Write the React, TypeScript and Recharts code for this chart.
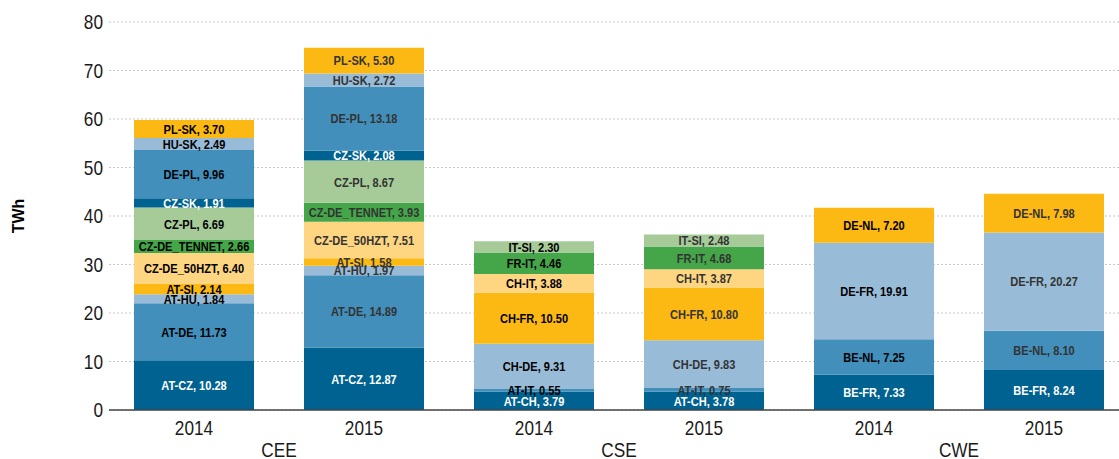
import { BarChart, Bar, XAxis, YAxis, CartesianGrid } from "recharts";

const years = ["2014", "2015", "2014", "2015", "2014", "2015"];
const regions = ["CEE", "CEE", "CSE", "CSE", "CWE", "CWE"];

// segment names per region, bottom to top
const ceeNames = [
  "AT-CZ",
  "AT-DE",
  "AT-HU",
  "AT-SI",
  "CZ-DE_50HZT",
  "CZ-DE_TENNET",
  "CZ-PL",
  "CZ-SK",
  "DE-PL",
  "HU-SK",
  "PL-SK",
];
const cseNames = ["AT-CH", "AT-IT", "CH-DE", "CH-FR", "CH-IT", "FR-IT", "IT-SI"];
const cweNames = ["BE-FR", "BE-NL", "DE-FR", "DE-NL"];

const cee2014 = [10.28, 11.73, 1.84, 2.14, 6.4, 2.66, 6.69, 1.91, 9.96, 2.49, 3.7];
const cee2015 = [12.87, 14.89, 1.97, 1.58, 7.51, 3.93, 8.67, 2.08, 13.18, 2.72, 5.3];
const cse2014 = [3.79, 0.55, 9.31, 10.5, 3.88, 4.46, 2.3];
const cse2015 = [3.78, 0.75, 9.83, 10.8, 3.87, 4.68, 2.48];
const cwe2014 = [7.33, 7.25, 19.91, 7.2];
const cwe2015 = [8.24, 8.1, 20.27, 7.98];

const yTicks = [0, 10, 20, 30, 40, 50, 60, 70, 80];

const colors = [
  "#006290",
  "#428fbb",
  "#98bbd7",
  "#fdb913",
  "#fed581",
  "#45a649",
  "#a6cb99",
  "#006290",
  "#428fbb",
  "#98bbd7",
  "#fdb913",
];

const rows: [string[], number[]][] = [
  [ceeNames, cee2014],
  [ceeNames, cee2015],
  [cseNames, cse2014],
  [cseNames, cse2015],
  [cweNames, cwe2014],
  [cweNames, cwe2015],
];

const data = rows.map(([names, values], i) => {
  const row: Record<string, string | number> = {
    key: `${regions[i]}-${years[i]}`,
    year: years[i],
    region: regions[i],
  };
  values.forEach((v, j) => {
    row[`s${j}`] = v;
    row[`n${j}`] = names[j];
  });
  return row;
});

const seriesCount = 11;
const font = "'Liberation Sans', Arial, sans-serif";
const squeeze = 0.82; // stand-in for Arial Narrow

// text squeezed horizontally around its anchor point
function NarrowText({ x, y, size, weight, fill, anchor = "middle", baseline, children }: any) {
  return (
    <text
      transform={`translate(${x}, ${y}) scale(${squeeze}, 1)`}
      x={0}
      y={0}
      textAnchor={anchor}
      dominantBaseline={baseline}
      fontFamily={font}
      fontSize={size}
      fontWeight={weight}
      fill={fill}
    >
      {children}
    </text>
  );
}

function segmentLabel(seriesIndex: number) {
  return (props: any) => {
    const { x, y, width, height, index } = props;
    const row = data[index];
    const value = row?.[`s${seriesIndex}`];
    if (value === undefined || !height) return null;
    const name = row[`n${seriesIndex}`];
    const dark = seriesIndex === 0 || seriesIndex === 7;
    const is2015 = row.year === "2015";
    const fill = dark ? "#ffffff" : is2015 ? "#333333" : "#000000";
    return (
      <NarrowText
        x={x + width / 2}
        y={y + height / 2 + 0.5}
        size={13.5}
        weight="bold"
        fill={fill}
        baseline="central"
      >
        {`${name}, ${Number(value).toFixed(2)}`}
      </NarrowText>
    );
  };
}

function XTick(props: any) {
  const { x, y, payload, index } = props;
  const i = payload?.index ?? index;
  return (
    <g>
      <NarrowText x={x} y={y + 17} size={21} fill="#1a1a1a">
        {years[i]}
      </NarrowText>
      {i % 2 === 0 && (
        <NarrowText x={x + 85} y={y + 39} size={21} fill="#1a1a1a">
          {regions[i]}
        </NarrowText>
      )}
    </g>
  );
}

function YTick(props: any) {
  const { x, y, payload } = props;
  return (
    <NarrowText x={x} y={y + 7} size={21} fill="#1a1a1a" anchor="end">
      {payload.value}
    </NarrowText>
  );
}

function YTitle(props: any) {
  const { viewBox } = props;
  const cy = viewBox.y + viewBox.height / 2;
  return (
    <text
      x={18}
      y={cy}
      transform={`rotate(-90, 18, ${cy})`}
      textAnchor="middle"
      dominantBaseline="central"
      fontFamily={font}
      fontSize={16}
      fontWeight="bold"
      fill="#000"
    >
      TWh
    </text>
  );
}

export default function App() {
  return (
    <div style={{ position: "absolute", left: 0, top: 0, width: 1119, height: 459, background: "#fff" }}>
      <BarChart
        width={1119}
        height={459}
        data={data}
        margin={{ top: 22, right: -10, bottom: 0, left: 0 }}
        barSize={120}
      >
        <CartesianGrid vertical={false} stroke="#c8c8c8" strokeDasharray="2 2" />
        <XAxis
          dataKey="key"
          height={49}
          axisLine={{ stroke: "#444", strokeWidth: 1.5 }}
          tickLine={false}
          tick={<XTick />}
          interval={0}
        />
        <YAxis
          width={109}
          domain={[0, 80]}
          ticks={yTicks}
          axisLine={false}
          tickLine={false}
          tickSize={0}
          tickMargin={6}
          tick={<YTick />}
          label={{ content: <YTitle /> }}
        />
        {Array.from({ length: seriesCount }, (_, j) => (
          <Bar
            key={j}
            dataKey={`s${j}`}
            stackId="a"
            fill={colors[j]}
            isAnimationActive={false}
            label={segmentLabel(j)}
          />
        ))}
      </BarChart>
    </div>
  );
}
